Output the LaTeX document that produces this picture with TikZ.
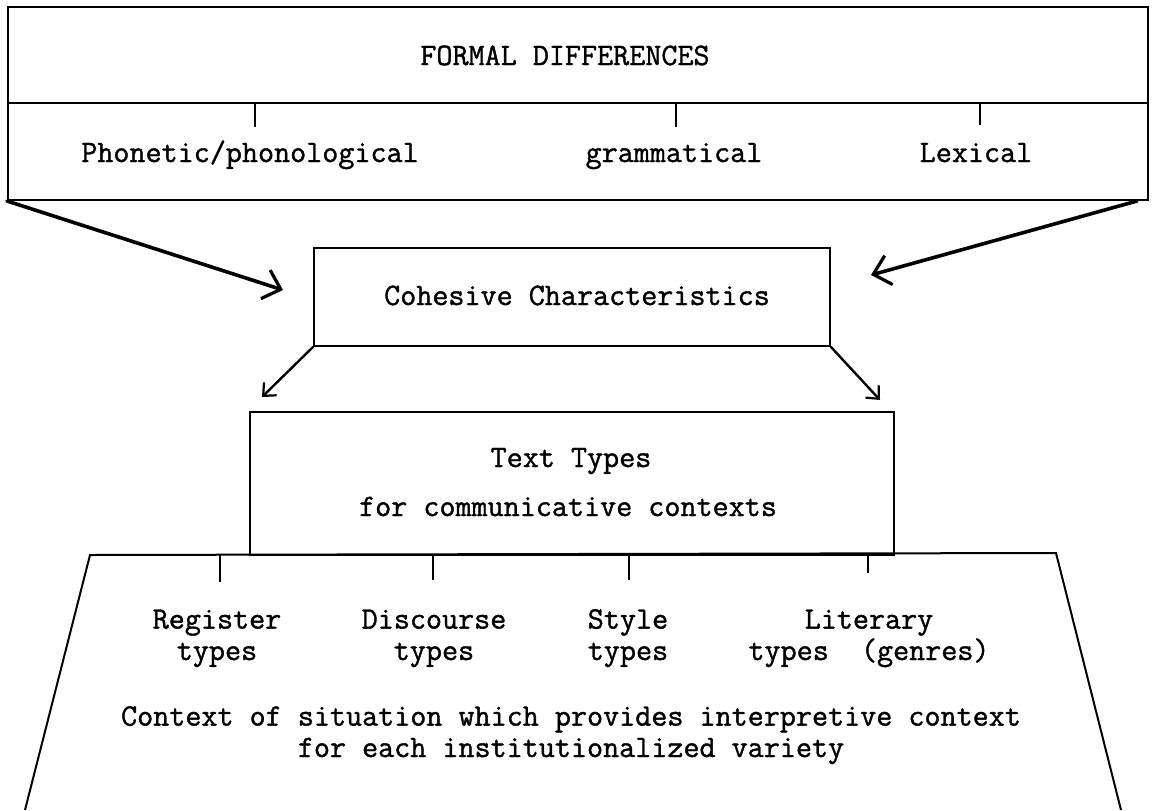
\documentclass[tikz,border=0pt]{standalone}
\usepackage{fontspec}
\newfontfamily\tw{Latin Modern Mono}[RawFeature={embolden=1.2}]
\usetikzlibrary{arrows.meta}
\begin{document}
\begin{tikzpicture}[x=0.5pt,y=-0.5pt,
  box/.style={draw, line width=1pt, inner sep=0pt},
  edge/.style={line width=1pt},
  lbl/.style={font=\tw\fontsize{15.6}{15.7}\selectfont, inner sep=0pt, align=center},
  bigarrow/.style={line width=1.8pt, line cap=round, -{Straight Barb[length=8pt,width=15pt,line width=1.6pt]}},
  smallarrow/.style={line width=1.2pt, line cap=round, -{Straight Barb[length=5pt,width=9pt,line width=1.1pt]}}]
\useasboundingbox (0,0) rectangle (1152,810);

% top box
\node[box, minimum width=570pt, minimum height=96.5pt] (formal) at (578,103.5) {};
\coordinate (divL) at (8,103);
\coordinate (divR) at (1148,103);
\draw[edge] (divL) -- (divR);
\node[lbl, anchor=base] (title) at (565,65) {FORMAL DIFFERENCES};
\node[lbl, anchor=base] (phon) at (250,162) {Phonetic/phonological};
\node[lbl, anchor=base] (gram) at (674,162) {grammatical};
\node[lbl, anchor=base] (lex)  at (976,162) {Lexical};
\draw[edge] (255,103) -- (255,127);
\draw[edge] (676,103) -- (676,127);
\draw[edge] (980,103) -- (980,125);

% cohesive box
\node[box, minimum width=258pt, minimum height=49pt] (coh) at (572,297) {};
\node[lbl, anchor=base] (cohtxt) at (577,305) {Cohesive Characteristics};

\coordinate (tipL) at (283,290);
\coordinate (tipR) at (871,275);
\draw[bigarrow] (formal.south west) -- (tipL);
\draw[bigarrow] ([xshift=-6pt]formal.south east) -- (tipR);

% text types box
\node[box, minimum width=322pt, minimum height=71.5pt] (tt) at (572,483.5) {};
\node[lbl, anchor=base] (tttitle) at (571,467) {Text Types};
\node[lbl, anchor=base] (ttsub) at (568,516) {for communicative contexts};

\coordinate (tipLL) at (262,397);
\coordinate (tipLR) at (880,400);
\draw[smallarrow] (coh.south west) -- (tipLL);
\draw[smallarrow] (coh.south east) -- (tipLR);

% trapezoid (open at bottom)
\coordinate (trTL) at (90,555);
\coordinate (trTR) at (1056,553);
\coordinate (trBL) at (25,810);
\coordinate (trBR) at (1121,810);
\draw[edge] (trBL) -- (trTL) -- (trTR) -- (trBR);

\draw[edge] (220,555) -- (220,582);
\draw[edge] (433,555) -- (433,580);
\draw[edge] (629,555) -- (629,580);
\draw[edge] (868,555) -- (868,573);

\node[lbl, anchor=base] (reg) at (217,660) {Register\\types};
\node[lbl, anchor=base] (disc) at (434,660) {Discourse\\types};
\node[lbl, anchor=base] (sty) at (628,660) {Style\\types};
\node[lbl, anchor=base] (lit) at (869,660) {Literary\\types~~(genres)};

\node[lbl, anchor=base] (ctx) at (571,757) {Context of situation which provides interpretive context\\for each institutionalized variety};
\end{tikzpicture}
\end{document}
